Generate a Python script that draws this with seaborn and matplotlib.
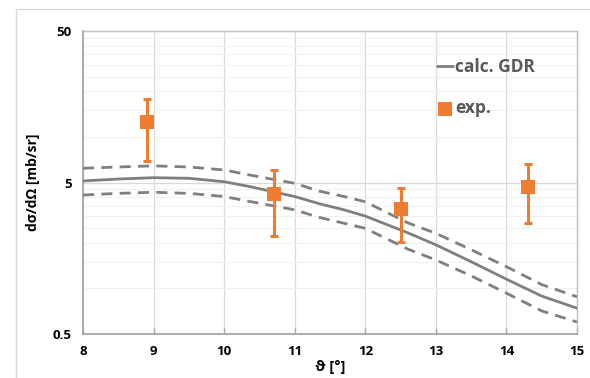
import numpy as np
import pandas as pd
import seaborn as sns
import matplotlib.pyplot as plt
from matplotlib.ticker import FixedLocator, NullFormatter, FixedFormatter
from matplotlib.patches import Rectangle

# Calculated GDR cross section (central curve and uncertainty band)
theta_calc = [8.0, 8.5, 9.0, 9.5, 10.0, 10.4, 11.0, 11.35, 11.7, 12.0,
              12.6, 13.0, 13.5, 14.0, 14.5, 15.0]
calc_mid = [5.12, 5.27, 5.38, 5.33, 5.06, 4.66, 4.04, 3.62, 3.30, 3.00,
            2.33, 1.94, 1.50, 1.15, 0.89, 0.74]
calc_upper = [6.21, 6.33, 6.44, 6.33, 6.05, 5.56, 4.94, 4.38, 4.04, 3.73,
              2.71, 2.31, 1.80, 1.39, 1.06, 0.88]
calc_lower = [4.13, 4.24, 4.31, 4.24, 4.04, 3.72, 3.30, 2.94, 2.69, 2.49,
              1.82, 1.54, 1.21, 0.93, 0.71, 0.60]

# Measured points with asymmetric error limits
theta_exp = [8.9, 10.7, 12.5, 14.3]
exp_val = [12.5, 4.18, 3.33, 4.64]
exp_hi = [17.9, 6.05, 4.60, 6.60]
exp_lo = [6.9, 2.22, 2.02, 2.69]

x_ticks = [8, 9, 10, 11, 12, 13, 14, 15]
y_ticks = [0.5, 5, 50]
y_tick_labels = ["0.5", "5", "50"]

sns.set_theme(style="white")
plt.rcParams["font.family"] = ["Open Sans", "DejaVu Sans"]

GRAY = "#7f7f7f"
ORANGE = "#ed7d31"

fig = plt.figure(figsize=(5.9, 3.78), dpi=100)
fig.patch.set_facecolor("white")
fig.add_artist(Rectangle((16 / 590, -0.05), 1.2, 1 - 9 / 378 + 0.05,
                         transform=fig.transFigure, fill=False,
                         edgecolor="#d9d9d9", linewidth=1.0))

ax = fig.add_axes([83 / 590, 44 / 378, 494 / 590, 303 / 378])

calc = pd.DataFrame({"theta": theta_calc, "mid": calc_mid,
                     "upper": calc_upper, "lower": calc_lower})
sns.lineplot(data=calc, x="theta", y="mid", ax=ax, color=GRAY, lw=2.0,
             label="calc. GDR", zorder=3)
for col in ("upper", "lower"):
    sns.lineplot(data=calc, x="theta", y=col, ax=ax, color=GRAY, lw=2.0,
                 dashes=(4, 2.6), zorder=3, legend=False)
for ln in ax.get_lines():
    ln.set_solid_joinstyle("round")
    ln.set_dash_joinstyle("round")

vals = np.array(exp_val)
yerr = np.vstack([vals - np.array(exp_lo), np.array(exp_hi) - vals])
ax.errorbar(theta_exp, exp_val, yerr=yerr, fmt="none", ecolor=ORANGE,
            elinewidth=2.2, capsize=3, capthick=2.2, zorder=4)
sns.scatterplot(x=theta_exp, y=exp_val, ax=ax, marker="s", s=110,
                color=ORANGE, edgecolor=ORANGE, linewidth=0, label="exp.",
                zorder=5)

ax.set_yscale("log")
ax.set_xlim(8, 15)
ax.set_ylim(0.5, 50)
ax.xaxis.set_major_locator(FixedLocator(x_ticks))
ax.yaxis.set_major_locator(FixedLocator(y_ticks))
ax.yaxis.set_major_formatter(FixedFormatter(y_tick_labels))
minor = [0.5 * k * 10 ** n for n in range(0, 2) for k in range(2, 10)]
ax.yaxis.set_minor_locator(FixedLocator(minor))
ax.yaxis.set_minor_formatter(NullFormatter())

ax.grid(True, which="major", color="#d9d9d9", lw=0.9)
ax.grid(True, which="minor", axis="y", color="#f0f0f0", lw=0.8)
ax.set_axisbelow(True)
for side in ("top", "right"):
    ax.spines[side].set_color("#bfbfbf")
    ax.spines[side].set_linewidth(1.0)
for side in ("left", "bottom"):
    ax.spines[side].set_color("#a6a6a6")
    ax.spines[side].set_linewidth(1.3)

ax.tick_params(axis="x", which="major", direction="in", length=4, width=1,
               color="#a6a6a6", bottom=True, labelsize=9.5, pad=8)
ax.tick_params(axis="y", which="major", length=0, labelsize=9.5, pad=8)
ax.tick_params(axis="y", which="minor", length=0)
for lab in ax.get_xticklabels() + ax.get_yticklabels():
    lab.set_fontweight("bold")
    lab.set_color("black")

ax.set_xlabel("ϑ [°]", fontsize=10.5, fontweight="bold", labelpad=1,
              color="black")
ax.set_ylabel("dσ/dΩ [mb/sr]", fontsize=10, fontweight="bold",
              labelpad=9, color="black")

handles, labels = ax.get_legend_handles_labels()
leg = ax.legend(handles, labels, loc="upper right", frameon=False,
                bbox_to_anchor=(0.946, 0.963), handlelength=0.9,
                handletextpad=0.1, labelspacing=1.35, markerscale=0.95,
                prop={"weight": "bold", "size": 12.5})
for t in leg.get_texts():
    t.set_color("#595959")

fig.savefig("out.png", dpi=100)
